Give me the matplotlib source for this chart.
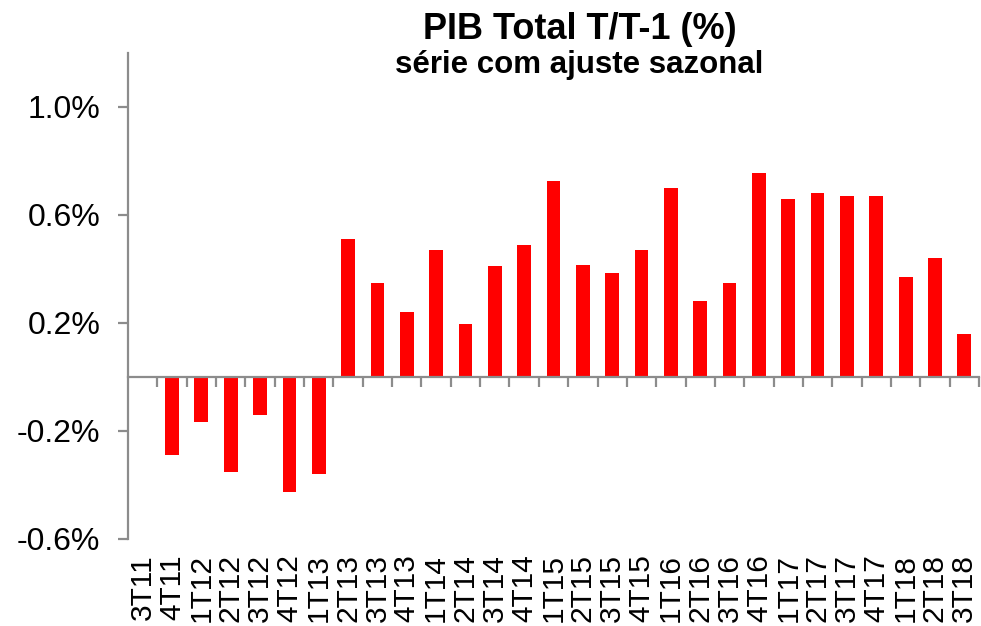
import matplotlib
matplotlib.use("Agg")
import matplotlib.pyplot as plt
from matplotlib.ticker import FuncFormatter

plt.rcParams['font.family'] = ['Liberation Sans', 'DejaVu Sans']

# quarters and quarter-on-quarter GDP growth (%)
quarters = ['3T11', '4T11', '1T12', '2T12', '3T12', '4T12', '1T13', '2T13', '3T13', '4T13',
            '1T14', '2T14', '3T14', '4T14', '1T15', '2T15', '3T15', '4T15', '1T16', '2T16',
            '3T16', '4T16', '1T17', '2T17', '3T17', '4T17', '1T18', '2T18', '3T18']
growth = [0.005, -0.29, -0.165, -0.35, -0.14, -0.425, -0.36, 0.51, 0.35, 0.24,
          0.47, 0.195, 0.41, 0.49, 0.725, 0.415, 0.385, 0.47, 0.70, 0.28,
          0.35, 0.755, 0.66, 0.68, 0.67, 0.67, 0.37, 0.44, 0.16]
y_ticks = [-0.6, -0.2, 0.2, 0.6, 1.0]

axis_gray = '#8c8c8c'

fig = plt.figure(figsize=(9.81, 6.26), dpi=100)
ax = fig.add_axes([128 / 981, (626 - 539) / 626, (979 - 128) / 981, (539 - 53) / 626])

x = list(range(len(quarters)))
ax.bar(x, growth, width=0.47, color='#ff0000', zorder=2)

ax.set_xlim(-0.5, len(quarters) - 0.5)
ax.set_ylim(-0.6, 1.2)

# axis styling
for side in ['top', 'right']:
    ax.spines[side].set_visible(False)
ax.spines['bottom'].set_position(('data', 0))
for side in ['left', 'bottom']:
    ax.spines[side].set_color(axis_gray)
    ax.spines[side].set_linewidth(1.6)
    ax.spines[side].set_zorder(3)

ax.set_yticks(y_ticks)
ax.yaxis.set_major_formatter(FuncFormatter(lambda v, p: '%.1f%%' % v))
ax.tick_params(axis='y', direction='out', length=7, width=1.6, color=axis_gray,
               labelsize=23, pad=13)

# ticks between categories on the zero line
ax.set_xticks([i + 0.5 for i in x])
ax.tick_params(axis='x', direction='out', length=7, width=1.6, color=axis_gray,
               labelbottom=False)

# category labels at the bottom of the plot area
sec = ax.secondary_xaxis('bottom')
sec.set_xticks(x)
sec.set_xticklabels(quarters, rotation=90)
sec.spines['bottom'].set_visible(False)
sec.tick_params(axis='x', length=0, labelsize=21.5, pad=11)

fig.text(0.591, 1 - 39 / 626, 'PIB Total T/T-1 (%)', ha='center', va='baseline',
         fontsize=26, fontweight='bold')
fig.text(0.59, 1 - 73 / 626, 'série com ajuste sazonal', ha='center', va='baseline',
         fontsize=22.5, fontweight='bold')

plt.savefig('out.png', dpi=100)
plt.close()
